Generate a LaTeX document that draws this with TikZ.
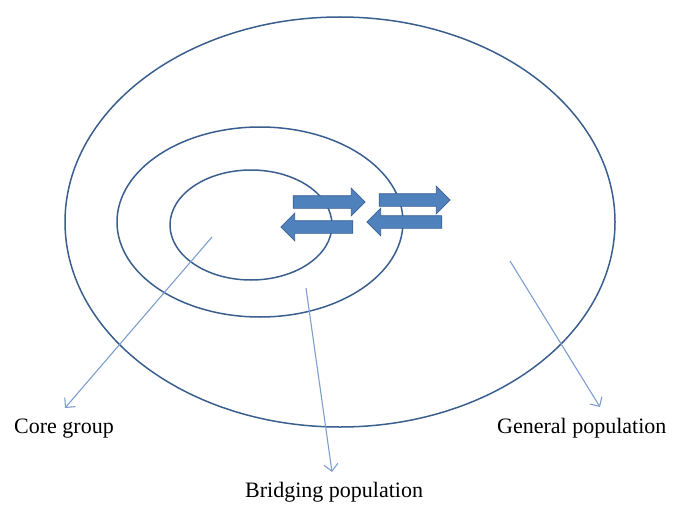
\documentclass[tikz,border=0pt]{standalone}
\usepackage{fontspec}
\setmainfont{Liberation Serif}
\usetikzlibrary{shapes.arrows,arrows.meta}
\definecolor{ringblue}{HTML}{3A5F8F}
\definecolor{ptrblue}{HTML}{7E9ED0}
\definecolor{arrowfill}{HTML}{4F81BD}
\definecolor{arrowedge}{HTML}{3A6194}
\begin{document}
\begin{tikzpicture}[x=1pt,y=-1pt,
  ring/.style={draw=ringblue,line width=1.5pt},
  pointer/.style={draw=ptrblue,line width=1.1pt,-{Straight Barb[length=7pt,width=14pt]}},
  blockarrow/.style={single arrow,fill=arrowfill,draw=arrowedge,line width=0.7pt,
    inner xsep=0pt,inner ysep=6pt,single arrow head extend=7.5pt,minimum height=72pt},
  lbl/.style={font=\fontsize{22}{26}\selectfont,inner sep=0pt,anchor=base west}]
\useasboundingbox (0,0) rectangle (682,516);
% the three groups
\draw[ring] (340,222) ellipse [x radius=275, y radius=205];
\draw[ring] (260,222) ellipse [x radius=143, y radius=95];
\draw[ring] (251,225) ellipse [x radius=81, y radius=55];
% exchange between groups
\node[blockarrow] (out1) at (326,202) {};
\node[blockarrow,shape border rotate=180] (in1) at (320,227) {};
\node[blockarrow,minimum height=71pt] (out2) at (411.5,200) {};
\node[blockarrow,minimum height=75pt,shape border rotate=180] (in2) at (407.5,222) {};
% labels
\node[lbl] (cg) at (14,433) {Core group};
\node[lbl] (bp) at (245,497) {Bridging population};
\node[lbl] (gp) at (497,433) {General population};
\coordinate (cgpt) at (212,237);
\coordinate (bppt) at (306,288);
\coordinate (gppt) at (510,261);
\draw[pointer] (cgpt) -- ([xshift=51pt,yshift=25pt]cg.base west);
\draw[pointer] (bppt) -- ([xshift=87pt,yshift=25pt]bp.base west);
\draw[pointer] (gppt) -- ([xshift=103pt,yshift=26pt]gp.base west);
\end{tikzpicture}
\end{document}
